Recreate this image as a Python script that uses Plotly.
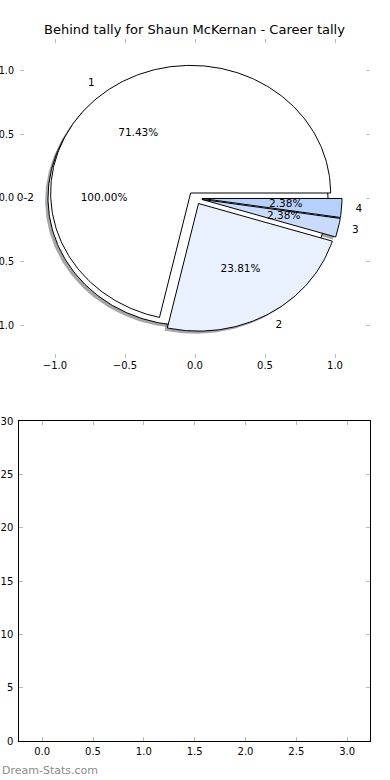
import numpy as np
import plotly.graph_objects as go

# ---- data ----
title_text = "Behind tally for Shaun McKernan - Career tally"
outer_labels = ["1", "2", "3", "4"]
outer_counts = [30, 10, 1, 1]
outer_colors = ["#ffffff", "#e9f0fe", "#c9dbfc", "#b5d0fb"]
inner_labels = ["0-2"]
inner_counts = [1]
inner_colors = ["#ffffff"]
explode = 0.05
pie_ticks = [-1.0, -0.5, 0.0, 0.5, 1.0]
bar_xticks = [0.0, 0.5, 1.0, 1.5, 2.0, 2.5, 3.0]
bar_yticks = [0, 5, 10, 15, 20, 25, 30]
watermark = "Dream-Stats.com"

FONT = "DejaVu Sans"
W, H = 390, 780

fig = go.Figure()


def wedge_xy(cx, cy, a1, a2, full=False):
    n = max(int(abs(a2 - a1) / 1.0) + 2, 4)
    t = np.radians(np.linspace(a1, a2, n))
    xs = cx + np.cos(t)
    ys = cy + np.sin(t)
    if full:
        return list(xs), list(ys)
    return [cx] + list(xs) + [cx], [cy] + list(ys) + [cy]


def pie_geometry(counts, labels, colors):
    total = float(sum(counts))
    start = 0.0
    wedges, texts = [], []
    for c, lab, col in zip(counts, labels, colors):
        frac = c / total
        a1, a2 = start, start + 360.0 * frac
        mid = np.radians((a1 + a2) / 2)
        cx, cy = explode * np.cos(mid), explode * np.sin(mid)
        xs, ys = wedge_xy(cx, cy, a1, a2, frac >= 0.9999)
        wedges.append((xs, ys, col))
        lx, ly = cx + 1.1 * np.cos(mid), cy + 1.1 * np.sin(mid)
        px, py = cx + 0.6 * np.cos(mid), cy + 0.6 * np.sin(mid)
        texts.append((lx, ly, lab, "middle right" if lx > 0 else "middle left"))
        texts.append((px, py, "%.2f%%" % (frac * 100), "middle center"))
        start = a2
    return wedges, texts


inner_w, inner_t = pie_geometry(inner_counts, inner_labels, inner_colors)
outer_w, outer_t = pie_geometry(outer_counts, outer_labels, outer_colors)
all_w = inner_w + outer_w

# shadows (below every wedge)
for xs, ys, col in all_w:
    fig.add_trace(go.Scatter(
        x=[v - 0.02 for v in xs], y=[v - 0.02 for v in ys], mode="lines",
        fill="toself", fillcolor="rgba(77,77,77,0.5)",
        line=dict(color="rgba(0,0,0,0)", width=0),
        hoverinfo="skip", xaxis="x", yaxis="y"))
# wedges
for xs, ys, col in all_w:
    fig.add_trace(go.Scatter(
        x=xs, y=ys, mode="lines", fill="toself", fillcolor=col,
        line=dict(color="black", width=1), hoverinfo="skip",
        xaxis="x", yaxis="y"))

for (tx, ty, tt, tp) in inner_t + outer_t:
    fig.add_trace(go.Scatter(
        x=[tx], y=[ty], mode="text", text=[tt], textposition=tp,
        textfont=dict(family=FONT, size=10.5, color="black"),
        cliponaxis=False, hoverinfo="skip", xaxis="x", yaxis="y"))

# empty bar axes
fig.add_trace(go.Bar(x=[], y=[], xaxis="x2", yaxis="y2"))

tick_base = dict(ticks="inside", ticklen=4, tickwidth=1, tickcolor="#bbbbbb",
                 showgrid=False, zeroline=False, automargin=False)
tick_font = dict(family=FONT, size=10, color="black")

fig.update_layout(
    template="none",
    width=W, height=H, margin=dict(l=0, r=0, t=0, b=0, pad=0, autoexpand=False),
    paper_bgcolor="white", plot_bgcolor="rgba(0,0,0,0)", showlegend=False,
    xaxis=dict(domain=[20 / W, 370 / W], range=[-1.25, 1.25], anchor="y",
               tickvals=pie_ticks, tickformat=".1f", showline=False,
               mirror="ticks", tickfont=tick_font, **tick_base),
    yaxis=dict(domain=[1 - 357.5 / H, 1 - 38.5 / H], range=[-1.25, 1.25], anchor="x",
               tickvals=pie_ticks, tickformat=".1f", showline=False,
               mirror="ticks", ticklabelstandoff=5,
               tickfont=dict(family=FONT, size=9.6, color="black"), **tick_base),
    xaxis2=dict(domain=[19.3 / W, 370 / W], range=[-0.225, 3.225], anchor="y2",
                tickvals=bar_xticks, tickformat=".1f", showline=True,
                linecolor="black", linewidth=1, mirror="ticks",
                ticklabelstandoff=1, tickfont=tick_font, **tick_base),
    yaxis2=dict(domain=[1 - 741 / H, 1 - 421 / H], range=[0, 30], anchor="x2",
                tickvals=bar_yticks, showline=True, linecolor="black",
                linewidth=1, mirror="ticks", ticklabelstandoff=3,
                tickfont=tick_font, **tick_base),
    annotations=[
        dict(text=title_text, xref="paper", yref="paper", x=194.5 / W, y=1 - 29.5 / H,
             xanchor="center", yanchor="middle", showarrow=False,
             font=dict(family=FONT, size=13, color="black")),
        dict(text=watermark, xref="paper", yref="paper", x=0, y=1 - 770 / H,
             xanchor="left", yanchor="middle", showarrow=False,
             font=dict(family=FONT, size=11, color="#8a8a8a")),
    ],
)

fig.write_html("out.html")
